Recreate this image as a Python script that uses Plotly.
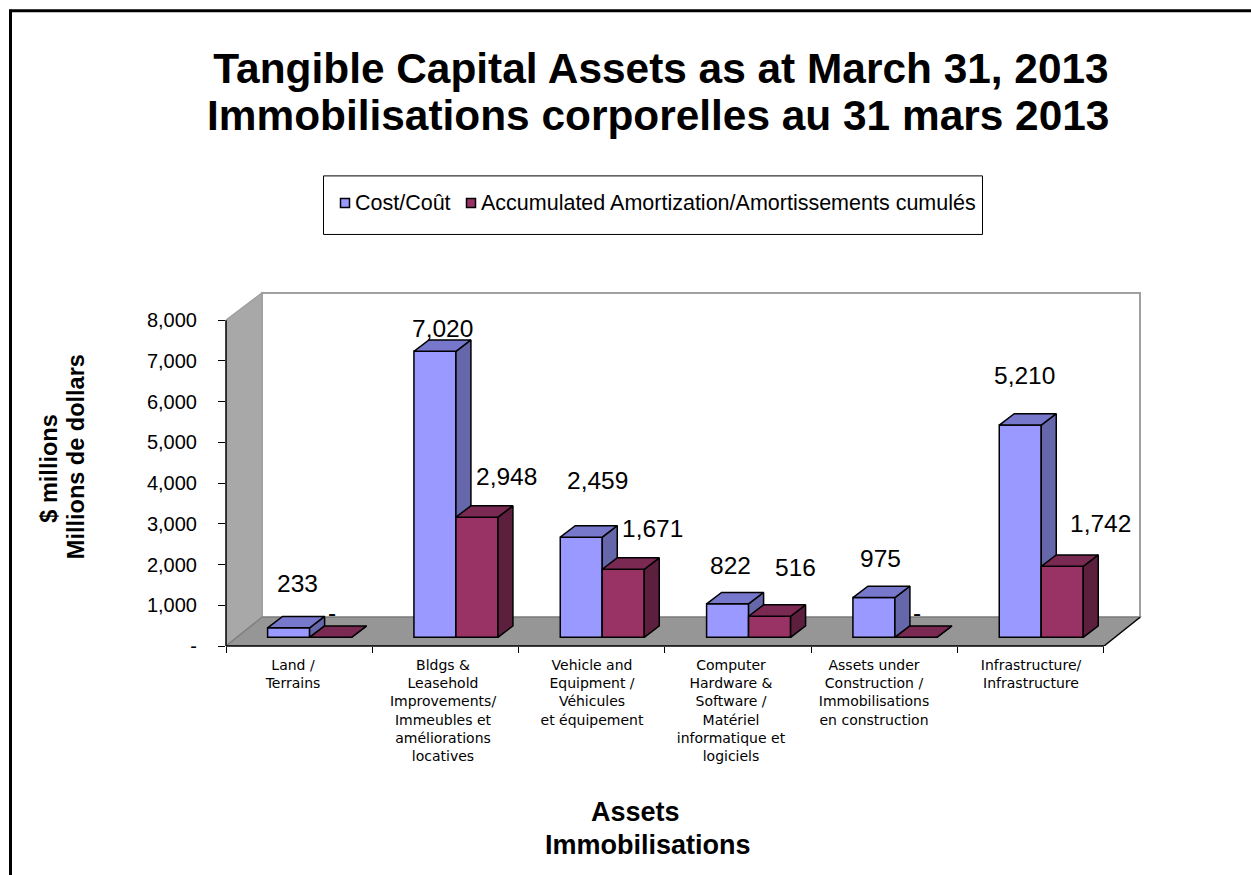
import plotly.graph_objects as go

categories = [
    "Land /<br>Terrains",
    "Bldgs &<br>Leasehold<br>Improvements/<br>Immeubles et<br>améliorations<br>locatives",
    "Vehicle and<br>Equipment /<br>Véhicules<br>et équipement",
    "Computer<br>Hardware &<br>Software /<br>Matériel<br>informatique et<br>logiciels",
    "Assets under<br>Construction /<br>Immobilisations<br>en construction",
    "Infrastructure/<br>Infrastructure",
]
cost = [233, 7020, 2459, 822, 975, 5210]
amort = [0, 2948, 1671, 516, 0, 1742]
y_ticks = [0, 1000, 2000, 3000, 4000, 5000, 6000, 7000, 8000]
y_ticktext = ["-", "1,000", "2,000", "3,000", "4,000", "5,000", "6,000", "7,000", "8,000"]
cost_label_shift = [(9, 44), (8, 23), (16, 57), (3, 38), (7, 39), (4, 50)]
amort_label_shift = [(1, 25), (30, 41), (29, 41), (26, 49), (1, 25), (38, 43)]
cat_label_px = [293, 443, 592, 731, 874, 1031]

# plot frame in pixels
L, R, T, B = 226, 1143, 290, 645.7
WALL_R, WALL_T = 1140, 293
W_PAGE, H_PAGE = 1251, 875
CAT_PX = 146.33
VAL_PX = 0.0407
XMAX = (R - L) / CAT_PX
YMAX = (B - T) / VAL_PX
WX = (WALL_R - L) / CAT_PX
WY = (B - WALL_T) / VAL_PX
# 3D look
WALL_DX, WALL_DY = 36 / CAT_PX, 28.7 / VAL_PX
DEPTH_X, DEPTH_Y = 15 / CAT_PX, 11.4 / VAL_PX
BASE = 8.7 / VAL_PX
BAR_W = 42 / CAT_PX
BLUE_C = 62.6 / CAT_PX
RED_C = 104.6 / CAT_PX
FONT = "Liberation Sans"


def px(x):
    return (x - L) / (R - L)


def py(y):
    return (B - y) / (B - T)


def faces(centers, values):
    side_x, side_y, top_x, top_y = [], [], [], []
    for c, v in zip(centers, values):
        x0, x1 = c - BAR_W / 2, c + BAR_W / 2
        y0, y1 = BASE, BASE + v
        side_x += [x1, x1 + DEPTH_X, x1 + DEPTH_X, x1, x1, None]
        side_y += [y0, y0 + DEPTH_Y, y1 + DEPTH_Y, y1, y0, None]
        top_x += [x0, x0 + DEPTH_X, x1 + DEPTH_X, x1, x0, None]
        top_y += [y1, y1 + DEPTH_Y, y1 + DEPTH_Y, y1, y1, None]
    return side_x, side_y, top_x, top_y


def add_series(fig, name, values, offset, front, top, side, xa, ya):
    centers = [i + offset for i in range(len(values))]
    fig.add_trace(go.Bar(name=name, x=centers, y=values, base=BASE, width=BAR_W,
                         marker=dict(color=front, line=dict(color="black", width=1.5)),
                         xaxis=xa, yaxis=ya, showlegend=False))
    sx, sy, tx, ty = faces(centers, values)
    for fx, fy, col in ((sx, sy, side), (tx, ty, top)):
        fig.add_trace(go.Scatter(x=fx, y=fy, mode="lines", fill="toself", fillcolor=col,
                                 line=dict(color="black", width=1.5), xaxis=xa, yaxis=ya,
                                 showlegend=False, hoverinfo="skip", cliponaxis=False))
    return centers


fig = go.Figure()
blue_x = add_series(fig, "Cost/Coût", cost, BLUE_C, "#9999FF", "#7777CC", "#6666AA", "x", "y")
red_x = add_series(fig, "Accumulated Amortization/Amortissements cumulés", amort, RED_C,
                   "#993366", "#7A2952", "#5C1F3D", "x2", "y2")

shapes = [
    # back wall
    dict(type="rect", x0=WALL_DX, x1=WX, y0=WALL_DY, y1=WY, fillcolor="white",
         line=dict(color="#A0A0A0", width=2), layer="below"),
    # left wall
    dict(type="path", path=f"M 0 0 L {WALL_DX} {WALL_DY} L {WALL_DX} {WY} L 0 8000 Z",
         fillcolor="#A8A8A8", line=dict(color="#A0A0A0", width=1.5), layer="below"),
    # floor
    dict(type="path", path=f"M 0 0 L {WALL_DX} {WALL_DY} L {WX} {WALL_DY} L 6 0 Z",
         fillcolor="#969696", line=dict(color="#808080", width=1.5), layer="below"),
    # axis lines
    dict(type="line", xref="paper", yref="paper", x0=0, x1=0, y0=0, y1=8000 * VAL_PX / (B - T),
         line=dict(color="black", width=1.5), layer="above"),
    dict(type="line", xref="paper", yref="paper", x0=0, x1=6 * CAT_PX / (R - L), y0=0, y1=0,
         line=dict(color="black", width=1.5), layer="above"),
    dict(type="line", x0=6, x1=WX, y0=0, y1=WALL_DY, line=dict(color="black", width=1.2), layer="above"),
    # outer page rule
    dict(type="line", xref="paper", yref="paper", x0=px(10.5), x1=px(10.5), y0=py(10), y1=py(875),
         line=dict(color="black", width=3)),
    dict(type="line", xref="paper", yref="paper", x0=px(9), x1=px(1251), y0=py(11), y1=py(11),
         line=dict(color="black", width=3)),
    # legend box and swatches
    dict(type="rect", xref="paper", yref="paper", x0=px(323.5), x1=px(982.5), y0=py(176), y1=py(234.5),
         line=dict(color="black", width=1), fillcolor="white"),
    dict(type="rect", xref="paper", yref="paper", x0=px(340.5), x1=px(349.5), y0=py(198.5), y1=py(207.5),
         line=dict(color="black", width=1.5), fillcolor="#9999FF"),
    dict(type="rect", xref="paper", yref="paper", x0=px(466.5), x1=px(475.5), y0=py(198.5), y1=py(207.5),
         line=dict(color="black", width=1.5), fillcolor="#993366"),
]

annots = []
for xs, vals, shifts in ((blue_x, cost, cost_label_shift), (red_x, amort, amort_label_shift)):
    for x, v, (dx, dy) in zip(xs, vals, shifts):
        annots.append(dict(x=x, y=BASE + v, xref="x", yref="y", xshift=dx, yshift=dy,
                           text=f"{v:,}" if v else "-", showarrow=False,
                           font=dict(family=FONT, size=24.5, color="black")))


def note(text, x, y, size, bold=False, angle=0, xanchor="center"):
    t = f"<b>{text}</b>" if bold else text
    annots.append(dict(x=px(x), y=py(y), xref="paper", yref="paper", text=t, showarrow=False,
                       textangle=angle, xanchor=xanchor, yanchor="middle",
                       font=dict(family=FONT, size=size, color="black")))


note("Immobilisations corporelles au 31 mars 2013", 657.5, 116, 42.4, bold=True)
note("Cost/Coût", 352.5, 203, 21.5, xanchor="left")
note("Accumulated Amortization/Amortissements cumulés", 479, 203, 21.5, xanchor="left")
note("$ millions", 49.5, 469, 23.5, bold=True, angle=-90)
note("Millions de dollars", 76, 457, 23.5, bold=True, angle=-90)
note("Assets", 635, 812, 27, bold=True)
note("Immobilisations", 648, 845, 27, bold=True)

fig.update_layout(
    width=W_PAGE, height=H_PAGE, autosize=False,
    margin=dict(l=L, r=W_PAGE - R, t=T, b=H_PAGE - B, pad=0),
    paper_bgcolor="white", plot_bgcolor="rgba(0,0,0,0)",
    showlegend=False, barmode="overlay",
    title=dict(text="<b>Tangible Capital Assets as at March 31, 2013</b>",
               x=661 / W_PAGE, xanchor="center", y=1 - 68 / H_PAGE, yanchor="middle",
               font=dict(family=FONT, size=42.4, color="black")),
    shapes=shapes, annotations=annots,
    xaxis=dict(range=[0, XMAX], tickmode="array", tickvals=[(p - L) / CAT_PX for p in cat_label_px],
               ticktext=categories, ticks="", showgrid=False, zeroline=False, showline=False,
               tickangle=0, tickfont=dict(family="DejaVu Sans", size=14, color="black"), ticklabelstandoff=9,
               minor=dict(tickmode="array", tickvals=list(range(7)), ticks="outside", ticklen=6,
                          tickwidth=1, tickcolor="black", showgrid=False)),
    yaxis=dict(range=[0, YMAX], tickmode="array", tickvals=y_ticks, ticktext=y_ticktext,
               ticks="outside", ticklen=7, tickwidth=1, tickcolor="black", showgrid=False,
               zeroline=False, showline=False, tickfont=dict(family=FONT, size=20, color="black"),
               ticklabelstandoff=17),
    xaxis2=dict(range=[0, XMAX], overlaying="x", visible=False),
    yaxis2=dict(range=[0, YMAX], overlaying="y", visible=False),
)

fig.write_html("out.html", config={"displayModeBar": False},
               post_script="document.body.style.margin='0';")
